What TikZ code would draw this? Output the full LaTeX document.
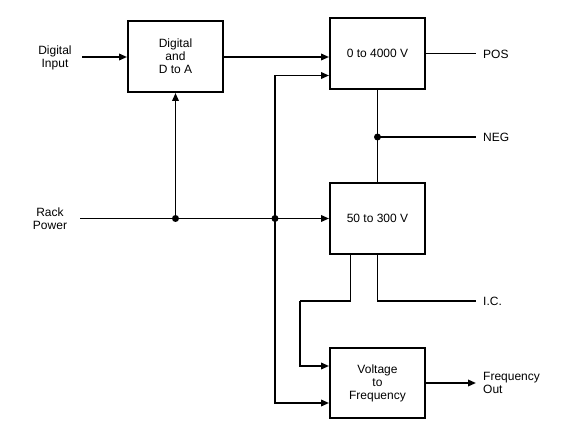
\documentclass[tikz,border=0pt]{standalone}
\usepackage{fontspec}
\setmainfont{Liberation Sans}
\usetikzlibrary{arrows.meta,calc}
\begin{document}
\begin{tikzpicture}[x=1pt,y=-1pt,
  every node/.style={font=\fontsize{12}{13}\selectfont, align=center, inner sep=0pt},
  blk/.style={draw, line width=1.9pt, minimum width=95pt, minimum height=71pt},
  wire/.style={line width=1.8pt},
  arr/.style={wire, -{Triangle[length=8pt,width=6.5pt]}},
  dot/.style={circle, fill, minimum size=7pt, inner sep=0pt}]
\useasboundingbox (0,0) rectangle (584,438);
% blocks
\node[blk] (dac) at (175.5,56.5) {Digital\\and\\D to A};
\node[blk] (hv) at (377.5,53.5) {0 to 4000 V};
\node[blk] (lv) at (377.5,218.5) {50 to 300 V};
\node[blk, minimum height=70pt] (vf) at (377.5,383) {Voltage\\to\\Frequency};
% labels
\node (din) at (55,58) {Digital\\Input};
\node (rack) at (50,219) {Rack\\Power};
\node[anchor=west] (pos) at (483,54) {POS};
\node[anchor=west] (neg) at (483,137) {NEG};
\node[anchor=west] (ic) at (483,301) {I.C.};
\node[anchor=west, align=left] (fout) at (483,383) {Frequency\\Out};
% coordinates
\coordinate (dinend) at (82,57);
\coordinate (rpstart) at (80,218.5);
\coordinate (j1) at (dac.south |- rpstart);
\coordinate (j2) at (275,218.5);
\coordinate (j3) at (377.5,137);
\coordinate (hvin2) at ($(hv.west)+(0,22)$);
\coordinate (vfin1) at ($(vf.west)+(0,-17)$);
\coordinate (vfin2) at ($(vf.west)+(0,20)$);
\coordinate (lvout1) at ($(lv.south)+(-27,0)$);
\coordinate (bend) at (300,301);
\coordinate (posend) at (476,53.5);
\coordinate (negend) at (476,137);
\coordinate (icend) at (476,301);
\coordinate (foend) at (476,383);
% connectors
\draw[arr] (dinend) -- (dac.west |- dinend);
\draw[arr] (dac.east |- dinend) -- (hv.west |- dinend);
\draw[arr] (rpstart) -- (lv.west);
\draw[arr] (j1) -- (dac.south);
\draw[arr] (j2) |- (hvin2);
\draw[arr] (j2) |- (vfin2);
\draw[wire] (hv.east) -- (posend);
\draw[wire] (hv.south) -- (lv.north);
\draw[wire] (j3) -- (negend);
\draw[wire] (lv.south) |- (icend);
\draw[wire] (lvout1) |- (bend);
\draw[arr] (bend) |- (vfin1);
\draw[arr] (vf.east) -- (foend);
% junctions
\node[dot] at (j1) {};
\node[dot] at (j2) {};
\node[dot] at (j3) {};
\end{tikzpicture}
\end{document}
